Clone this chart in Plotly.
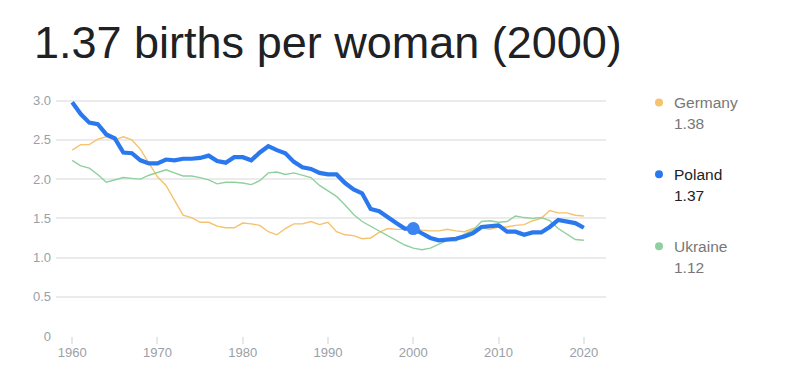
import plotly.graph_objects as go

years = list(range(1960, 2021))

germany = [2.37, 2.44, 2.44, 2.51, 2.54, 2.50, 2.54, 2.50, 2.38, 2.21,
           2.03, 1.92, 1.72, 1.54, 1.51, 1.45, 1.45, 1.40, 1.38, 1.38,
           1.44, 1.43, 1.41, 1.33, 1.29, 1.37, 1.43, 1.43, 1.46, 1.42,
           1.45, 1.33, 1.29, 1.28, 1.24, 1.25, 1.32, 1.37, 1.36, 1.36,
           1.38, 1.35, 1.34, 1.34, 1.36, 1.34, 1.33, 1.37, 1.38, 1.36,
           1.39, 1.39, 1.41, 1.42, 1.47, 1.50, 1.60, 1.57, 1.57, 1.54,
           1.53]

poland = [2.98, 2.83, 2.72, 2.70, 2.57, 2.52, 2.34, 2.33, 2.24, 2.20,
          2.20, 2.25, 2.24, 2.26, 2.26, 2.27, 2.30, 2.23, 2.21, 2.28,
          2.28, 2.24, 2.34, 2.42, 2.37, 2.33, 2.22, 2.15, 2.13, 2.08,
          2.06, 2.06, 1.95, 1.87, 1.82, 1.62, 1.59, 1.51, 1.44, 1.37,
          1.37, 1.31, 1.25, 1.22, 1.23, 1.24, 1.27, 1.31, 1.39, 1.40,
          1.41, 1.33, 1.33, 1.29, 1.32, 1.32, 1.39, 1.48, 1.46, 1.44,
          1.38]

ukraine = [2.24, 2.17, 2.14, 2.06, 1.96, 1.99, 2.02, 2.01, 2.00, 2.05,
           2.09, 2.12, 2.08, 2.04, 2.04, 2.02, 1.99, 1.94, 1.96, 1.96,
           1.95, 1.93, 1.98, 2.08, 2.09, 2.06, 2.08, 2.05, 2.02, 1.92,
           1.85, 1.78, 1.67, 1.55, 1.46, 1.40, 1.34, 1.28, 1.23, 1.16,
           1.12, 1.10, 1.12, 1.17, 1.22, 1.21, 1.30, 1.35, 1.46, 1.47,
           1.45, 1.46, 1.53, 1.51, 1.50, 1.51, 1.47, 1.37, 1.30, 1.23,
           1.22]

x_ticks = [1960, 1970, 1980, 1990, 2000, 2010, 2020]
y_ticks = [0, 0.5, 1.0, 1.5, 2.0, 2.5, 3.0]
y_tick_labels = ["0", "0.5", "1.0", "1.5", "2.0", "2.5", "3.0"]

sel_year = 2000
names = ["Germany", "Poland", "Ukraine"]
series = [germany, poland, ukraine]
colors = ["#f6c26c", "#2a78ee", "#8fd09e"]
text_colors = ["#777777", "#202124", "#777777"]
highlight = "Poland"

W, H = 799, 386
L, R = 56, 606
T, B = 95.5, 336
ymax = 3.06

fig = go.Figure()
for name, vals, col in zip(names, series, colors):
    if name == highlight:
        continue
    fig.add_trace(go.Scatter(x=years, y=vals, mode="lines", name=name,
                             line=dict(color=col, width=1.4), hoverinfo="skip"))
idx = names.index(highlight)
fig.add_trace(go.Scatter(x=years, y=series[idx], mode="lines", name=highlight,
                         line=dict(color=colors[idx], width=4.2), hoverinfo="skip"))
si = years.index(sel_year)
fig.add_trace(go.Scatter(x=[sel_year], y=[series[idx][si]], mode="markers",
                         marker=dict(color="#3b84f2", size=13), hoverinfo="skip"))

def py2paper(py):
    return (B - py) / (B - T)

def px2paper(px):
    return (px - L) / (R - L)

annotations = []
shapes = []
legend_y = [102, 174, 246]
for name, vals, col, tcol, ly in zip(names, series, colors, text_colors, legend_y):
    shapes.append(dict(type="circle", xref="paper", yref="paper",
                       xsizemode="pixel", ysizemode="pixel",
                       xanchor=px2paper(659), yanchor=py2paper(ly),
                       x0=-4, x1=4, y0=-4, y1=4,
                       fillcolor=col, line=dict(width=0)))
    annotations.append(dict(xref="paper", yref="paper", x=px2paper(672),
                            y=py2paper(ly), xanchor="left", yanchor="middle",
                            text=name, showarrow=False,
                            font=dict(family="Liberation Sans", size=15.5, color=tcol)))
    annotations.append(dict(xref="paper", yref="paper", x=px2paper(672),
                            y=py2paper(ly + 21), xanchor="left", yanchor="middle",
                            text=f"{vals[si]:.2f}", showarrow=False,
                            font=dict(family="Liberation Sans", size=15.5, color=tcol)))

title_text = f"{series[idx][si]:.2f} births per woman ({sel_year})"

fig.update_layout(
    width=W, height=H,
    margin=dict(l=L, r=W - R, t=T, b=H - B, pad=0),
    paper_bgcolor="white", plot_bgcolor="white",
    showlegend=False,
    title=dict(text=title_text, xref="container", yref="container",
               x=34 / W, xanchor="left", y=1 - 42 / H, yanchor="middle",
               font=dict(family="Liberation Sans", size=45, color="#202124")),
    xaxis=dict(range=[1958.1, 2022.6], tickvals=x_ticks,
               ticktext=[str(v) for v in x_ticks],
               showgrid=False, zeroline=False, showline=False,
               ticks="outside", ticklen=7, tickcolor="#e8e8e8", tickwidth=1.5,
               ticklabelstandoff=-3,
               tickfont=dict(family="Liberation Sans", size=13, color="#9aa0a6")),
    yaxis=dict(range=[0, ymax], tickvals=y_ticks, ticktext=y_tick_labels,
               showgrid=True, gridcolor="#ebebeb", gridwidth=1.5,
               zeroline=False, showline=False, ticks="",
               ticklabelstandoff=4,
               tickfont=dict(family="Liberation Sans", size=13, color="#9aa0a6")),
    annotations=annotations,
    shapes=shapes,
)

fig.write_html("out.html")
